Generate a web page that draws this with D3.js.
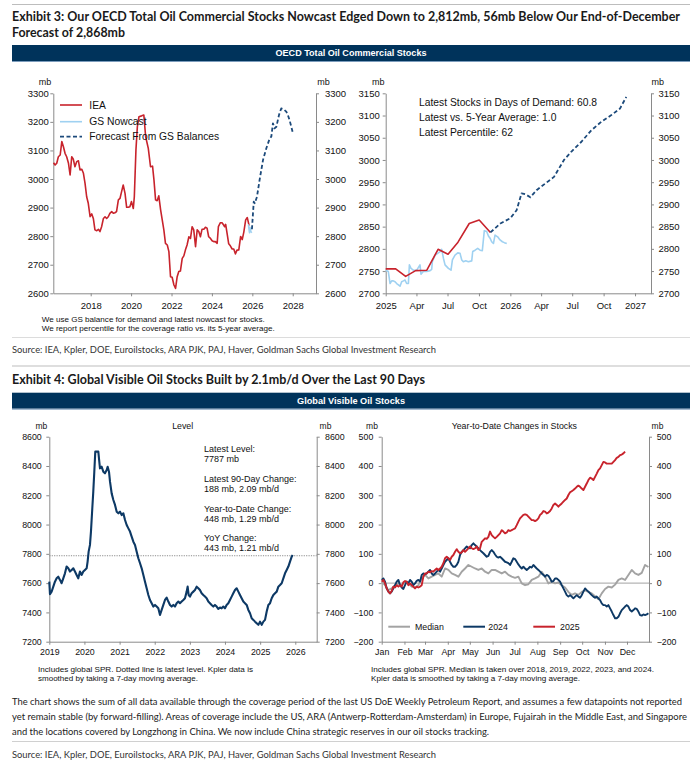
<!DOCTYPE html>
<html>
<head>
<meta charset="utf-8">
<script src="https://cdn.jsdelivr.net/npm/d3@7"></script>
<style>body{margin:0;background:#fff}</style>
</head>
<body>
<svg id="chart"></svg>
<script>
//////////////////////// DATA ////////////////////////
// OECD commercial stocks (mb), [decimal year, value]
const ieaSeries = [
  [2016.16,3057],[2016.24,3049],[2016.32,3055],[2016.40,3078],[2016.49,3084],[2016.57,3131],[2016.65,3113],[2016.73,3090],
  [2016.81,3078],[2016.90,3055],[2016.98,3014],[2017.06,3078],[2017.14,3069],[2017.22,3043],[2017.31,3061],[2017.39,3064],
  [2017.47,3032],[2017.56,3034],[2017.64,3020],[2017.72,2985],[2017.80,2938],[2017.88,2915],[2017.97,2868],[2018.05,2878],
  [2018.13,2862],[2018.21,2822],[2018.30,2819],[2018.38,2824],[2018.46,2816],[2018.54,2833],[2018.63,2862],[2018.71,2868],
  [2018.79,2862],[2018.87,2868],[2018.95,2880],[2019.04,2886],[2019.12,2880],[2019.20,2882],[2019.28,2886],[2019.37,2927],
  [2019.45,2932],[2019.53,2956],[2019.61,2979],[2019.70,2950],[2019.78,2901],[2019.86,2901],[2019.94,2903],[2020.02,2921],
  [2020.11,2897],[2020.16,2938],[2020.24,3102],[2020.31,3183],[2020.39,3218],[2020.52,3221],[2020.63,3224],[2020.72,3148],
  [2020.85,3107],[2020.96,3043],[2021.06,3045],[2021.13,2997],[2021.21,2927],[2021.29,2924],[2021.37,2941],[2021.46,2892],
  [2021.54,2857],[2021.62,2822],[2021.70,2775],[2021.79,2769],[2021.87,2746],[2021.95,2658],[2022.03,2656],[2022.12,2629],
  [2022.20,2617],[2022.28,2658],[2022.36,2676],[2022.44,2678],[2022.53,2722],[2022.61,2731],[2022.69,2752],[2022.77,2769],
  [2022.86,2798],[2022.94,2792],[2023.02,2833],[2023.10,2822],[2023.19,2763],[2023.27,2822],[2023.35,2816],[2023.43,2798],
  [2023.51,2824],[2023.60,2824],[2023.68,2831],[2023.76,2828],[2023.84,2798],[2023.93,2792],[2024.01,2784],[2024.09,2781],
  [2024.17,2781],[2024.26,2775],[2024.32,2833],[2024.42,2847],[2024.50,2847],[2024.58,2839],[2024.63,2833],[2024.68,2841],
  [2024.75,2810],[2024.83,2773],[2024.91,2766],[2025.00,2755],[2025.08,2755],[2025.16,2738],[2025.24,2751],[2025.33,2752],
  [2025.42,2799],[2025.50,2788],[2025.58,2815],[2025.67,2857],[2025.75,2865],[2025.84,2837]
];
const nowcastSeries = [
  [2025.000,2752],[2025.021,2749],[2025.035,2722],[2025.048,2728],[2025.061,2728],[2025.075,2726],[2025.088,2722],
  [2025.102,2719],[2025.115,2716],[2025.128,2726],[2025.142,2728],[2025.155,2730],[2025.168,2722],[2025.182,2722],
  [2025.190,2764],[2025.203,2756],[2025.222,2752],[2025.249,2752],[2025.275,2764],[2025.283,2743],[2025.302,2749],
  [2025.329,2749],[2025.356,2751],[2025.369,2754],[2025.374,2771],[2025.396,2786],[2025.417,2790],[2025.436,2794],
  [2025.449,2799],[2025.463,2779],[2025.476,2764],[2025.503,2756],[2025.524,2752],[2025.535,2775],[2025.556,2786],
  [2025.578,2791],[2025.596,2790],[2025.610,2775],[2025.623,2771],[2025.642,2773],[2025.663,2771],[2025.690,2773],
  [2025.698,2794],[2025.717,2797],[2025.738,2801],[2025.757,2797],[2025.775,2796],[2025.791,2841],[2025.810,2839],
  [2025.824,2829],[2025.837,2824],[2025.850,2816],[2025.864,2812],[2025.877,2831],[2025.898,2827],[2025.917,2820],
  [2025.936,2816],[2025.952,2814],[2025.971,2812]
];
// forecast from GS balances, as drawn on the long and the short panel
const forecastLong = [
  [2025.98,2824],[2026.07,2921],[2026.12,2915],[2026.23,2938],[2026.36,2997],[2026.53,3067],[2026.69,3107],
  [2026.86,3142],[2026.94,3148],[2027.02,3195],[2027.10,3177],[2027.19,3183],[2027.32,3224],[2027.43,3247],
  [2027.55,3244],[2027.68,3236],[2027.76,3224],[2027.84,3207],[2027.93,3183],[2028.01,3160]
];
const forecastShort = [
  [2025.84,2837],[2025.92,2857],[2026.00,2869],[2026.05,2887],[2026.09,2925],[2026.12,2923],[2026.16,2916],
  [2026.21,2932],[2026.28,2947],[2026.35,2962],[2026.43,3000],[2026.49,3019],[2026.57,3041],[2026.65,3067],
  [2026.73,3086],[2026.81,3101],[2026.88,3116],[2026.93,3142]
];
const oecdTicksLong = [2600,2700,2800,2900,3000,3100,3200,3300];
const oecdTicksShort = [2700,2750,2800,2850,2900,2950,3000,3050,3100,3150];
const longYears = [2018,2020,2022,2024,2026,2028];
const shortTickMonths = ["2025-01","2025-04","2025-07","2025-10","2026-01","2026-04","2026-07","2026-10","2027-01"];
const oecdNotes = ["Latest Stocks in Days of Demand: 60.8","Latest vs. 5-Year Average: 1.0","Latest Percentile: 62"];

// global visible stocks (mb), [decimal year, value]
const visibleLevel = [
  [2019.000,7610],[2019.019,7524],[2019.066,7542],[2019.114,7576],[2019.161,7610],[2019.209,7633],[2019.256,7644],
  [2019.304,7622],[2019.351,7599],[2019.398,7633],[2019.446,7667],[2019.493,7713],[2019.541,7701],[2019.588,7679],
  [2019.636,7690],[2019.683,7701],[2019.731,7679],[2019.778,7656],[2019.825,7633],[2019.873,7679],[2019.920,7656],
  [2019.968,7679],[2020.015,7690],[2020.063,7701],[2020.091,7747],[2020.120,7815],[2020.158,7861],[2020.186,7952],
  [2020.224,8111],[2020.252,8225],[2020.281,8361],[2020.309,8498],[2020.347,8498],[2020.395,8498],[2020.423,8429],
  [2020.442,8384],[2020.490,8395],[2020.537,8361],[2020.584,8350],[2020.632,8372],[2020.660,8395],[2020.698,8361],
  [2020.727,8293],[2020.774,8213],[2020.822,8168],[2020.869,8134],[2020.917,8088],[2020.964,8077],[2021.011,8088],
  [2021.059,8065],[2021.106,8077],[2021.154,8031],[2021.201,7997],[2021.249,7974],[2021.296,7952],[2021.343,7918],
  [2021.391,7883],[2021.438,7861],[2021.486,7815],[2021.533,7770],[2021.581,7736],[2021.628,7701],[2021.676,7656],
  [2021.723,7610],[2021.770,7565],[2021.818,7519],[2021.865,7485],[2021.913,7463],[2021.960,7440],[2022.008,7451],
  [2022.055,7440],[2022.102,7428],[2022.150,7383],[2022.197,7417],[2022.245,7451],[2022.292,7485],[2022.340,7501],
  [2022.387,7474],[2022.435,7451],[2022.482,7440],[2022.529,7451],[2022.577,7440],[2022.624,7463],[2022.672,7474],
  [2022.719,7463],[2022.767,7474],[2022.814,7485],[2022.861,7497],[2022.909,7542],[2022.937,7576],[2022.966,7519],
  [2023.004,7508],[2023.051,7531],[2023.099,7542],[2023.146,7553],[2023.194,7576],[2023.241,7565],[2023.288,7553],
  [2023.336,7531],[2023.383,7519],[2023.431,7508],[2023.478,7497],[2023.526,7474],[2023.573,7463],[2023.620,7451],
  [2023.668,7440],[2023.715,7451],[2023.763,7440],[2023.810,7424],[2023.858,7433],[2023.905,7428],[2023.953,7440],
  [2024.000,7428],[2024.047,7451],[2024.095,7463],[2024.142,7485],[2024.190,7508],[2024.237,7531],[2024.285,7553],
  [2024.332,7565],[2024.380,7542],[2024.427,7519],[2024.474,7497],[2024.522,7474],[2024.569,7463],[2024.617,7451],
  [2024.664,7417],[2024.712,7394],[2024.759,7360],[2024.806,7349],[2024.854,7337],[2024.901,7326],[2024.949,7315],
  [2024.996,7337],[2025.044,7315],[2025.091,7337],[2025.138,7349],[2025.186,7406],[2025.233,7451],[2025.281,7463],
  [2025.328,7497],[2025.376,7519],[2025.423,7531],[2025.471,7542],[2025.518,7576],[2025.566,7587],[2025.613,7599],
  [2025.660,7633],[2025.708,7667],[2025.755,7690],[2025.803,7713],[2025.850,7747],[2025.898,7781],[2025.926,7792]
];
const latestLevel = 7787;
const levelTicks = [7200,7400,7600,7800,8000,8200,8400,8600];
const levelYears = [2019,2020,2021,2022,2023,2024,2025,2026];
const levelNotes = ["Latest Level:","7787 mb","Latest 90-Day Change:","188 mb, 2.09 mb/d",
  "Year-to-Date Change:","448 mb, 1.29 mb/d","YoY Change:","443 mb, 1.21 mb/d"];

// year-to-date changes (mb); median read every 4.54 days, 2024/2025 every 2.27 days from 1 Jan
const medianStepDays = 4.54;
const ytdStepDays = 2.27;
const ytdMedian = [5,-7,-24,-18,-7,-1,-7,5,-1,-12,-15,-7,16,28,16,22,28,33,22,50,45,33,28,22,39,50,62,56,50,45,50,39,
  33,45,45,39,33,39,28,22,18,22,-1,-7,-4,11,16,22,39,22,-1,5,-1,2,-7,-15,-30,-40,-35,-40,-30,-25,-30,-35,-45,-55,-35,
  -20,-12,-15,-5,11,16,11,28,45,33,28,35,62,55];
const ytd2024 = [11,16,5,-18,-29,-35,-29,-18,-7,5,11,-7,-15,-20,-7,5,-1,11,5,-7,-1,8,11,5,28,33,30,33,39,45,33,28,33,
  39,45,39,50,62,73,79,85,73,62,56,56,62,73,96,107,113,119,125,121,119,130,136,130,125,119,113,107,102,96,90,93,107,113,
  107,98,90,87,90,85,79,73,71,68,62,73,85,82,73,64,56,50,56,50,45,50,56,53,62,56,50,45,39,33,28,22,28,25,16,5,7,16,16,
  11,5,-7,-18,-29,-41,-46,-41,-46,-52,-46,-41,-46,-50,-41,-29,-18,-24,-29,-35,-41,-46,-50,-46,-52,-58,-69,-75,-75,-80,
  -75,-86,-97,-109,-120,-120,-115,-103,-92,-86,-80,-75,-80,-92,-97,-92,-86,-88,-97,-109,-111,-107,-109,-107,-103];
const ytd2025 = [5,11,-1,-18,-29,-35,-27,-12,-15,-7,-12,-7,-12,3,7,5,-7,-1,-7,-12,-18,-12,-15,-12,-7,22,33,33,39,37,41,
  39,45,50,45,50,56,68,85,90,85,79,90,96,107,116,107,102,105,113,107,113,119,125,119,116,119,125,113,119,141,147,153,151,
  158,176,164,158,153,158,164,170,181,176,170,173,181,178,181,184,187,198,210,221,227,233,235,233,227,221,215,215,212,215,
  221,233,238,246,244,238,241,246,255,267,272,267,261,267,272,278,284,289,301,310,314,318,323,329,333,329,323,318,329,340,
  352,360,357,352,363,374,386,392,403,414,412,408,408,408,408,414,420,428,431,437,439,443,449];
const ytdTicks = [-200,-100,0,100,200,300,400,500];
const ytdLegend = ["Median","2024","2025"];

//////////////////////// STYLE ////////////////////////
const W = 697, H = 767;
const fontChart = "'Liberation Sans', Arial, sans-serif";
const fontText = "Lato, 'Noto Sans', sans-serif";
const BAR = "#00335b", RED = "#c8232c", LIGHT_BLUE = "#9fd1f1", DASH_NAVY = "#1c4a7b",
      NAVY = "#0d3965", GREY = "#a3a3a3", AXIS = "#8a8a8a";

const svg = d3.select("#chart").attr("width", W).attr("height", H);

const toDate = y => {
  const yr = Math.floor(y), s = new Date(yr, 0, 1), e = new Date(yr + 1, 0, 1);
  return new Date(+s + (y - yr) * (e - s));
};

const txt = (x, y, s, o = {}) => {
  const t = svg.append("text").attr("x", x).attr("y", y).text(s)
    .attr("font-family", o.family || fontChart).attr("font-size", o.size || 9)
    .attr("fill", o.fill || "#111").attr("text-anchor", o.anchor || "start");
  if (o.weight) t.attr("font-weight", o.weight);
  if (o.len) t.attr("textLength", o.len).attr("lengthAdjust", "spacingAndGlyphs");
  return t;
};
const hline = (x1, x2, y, c, w = 1) =>
  svg.append("line").attr("x1", x1).attr("x2", x2).attr("y1", y).attr("y2", y).attr("stroke", c).attr("stroke-width", w);

const headerBar = (y, label, len) => {
  svg.append("rect").attr("x", 12).attr("y", y).attr("width", 678).attr("height", 16).attr("fill", BAR);
  hline(12, 690, y + 16.5, "#7c9cbc", 1);
  txt(351, y + 11.3, label, {anchor: "middle", size: 8.5, weight: "bold", fill: "#fff", len});
};

// axes on left, right and bottom of a panel
const panelAxes = (x, y, c) => {
  const [x0, x1] = x.range(), y0 = y.range()[0];
  const g = svg.append("g");
  const la = g.append("g").attr("transform", `translate(${x0},0)`)
    .call(d3.axisLeft(y).tickValues(c.yTicks).tickSize(3).tickSizeOuter(0).tickPadding(c.padL).tickFormat(d3.format("d")));
  const ra = g.append("g").attr("transform", `translate(${x1},0)`)
    .call(d3.axisRight(y).tickValues(c.yTicks).tickSize(3).tickSizeOuter(0).tickPadding(c.padR).tickFormat(d3.format("d")));
  const ba = g.append("g").attr("transform", `translate(0,${y0})`)
    .call(d3.axisBottom(x).tickValues(c.xTicks).tickFormat(c.xFormat).tickSize(3).tickSizeOuter(0).tickPadding(c.padB));
  [la, ra, ba].forEach(a => {
    a.select(".domain").attr("stroke", AXIS);
    a.selectAll(".tick line").attr("stroke", AXIS);
    a.selectAll("text").attr("font-family", fontChart).attr("font-size", c.fs || 9).attr("fill", "#111");
  });
};

const drawLine = (data, x, y, color, w, dash) => {
  const p = svg.append("path").datum(data).attr("fill", "none").attr("stroke", color)
    .attr("stroke-width", w).attr("stroke-linejoin", "round")
    .attr("d", d3.line().x(d => x(d[0])).y(d => y(d[1])));
  if (dash) p.attr("stroke-dasharray", dash);
  return p;
};

//////////////////////// HEADINGS ////////////////////////
hline(12, 690, 4.5, "#bdbdbd", 1.2);
txt(12, 21, "Exhibit 3: Our OECD Total Oil Commercial Stocks Nowcast Edged Down to 2,812mb, 56mb Below Our End-of-December",
  {family: fontText, size: 12.5, weight: "bold", fill: "#1a1a1a", len: 668});
txt(12, 37, "Forecast of 2,868mb", {family: fontText, size: 12.5, weight: "bold", fill: "#1a1a1a", len: 113});
headerBar(45, "OECD Total Oil Commercial Stocks", 151);

//////////////////////// OECD LONG PANEL ////////////////////////
{
  const x = d3.scaleTime().domain([toDate(2016.15), toDate(2029.15)]).range([53.3, 316]);
  const y = d3.scaleLinear().domain([2600, 3300]).range([293.3, 93.3]);
  panelAxes(x, y, {yTicks: oecdTicksLong, padL: 1.5, padR: 6, padB: 5.5,
    xTicks: longYears.map(v => new Date(v, 0, 1)), xFormat: d3.timeFormat("%Y"), fs: 9.5});
  txt(45, 85, "mb", {anchor: "middle", size: 9});
  txt(323.5, 85, "mb", {anchor: "middle", size: 9});
  const lastIea = ieaSeries[ieaSeries.length - 1][0];
  drawLine(ieaSeries.map(d => [toDate(d[0]), d[1]]), x, y, RED, 1.6);
  drawLine(nowcastSeries.filter(d => d[0] >= lastIea - 0.06).map(d => [toDate(d[0]), d[1]]), x, y, LIGHT_BLUE, 1.6);
  drawLine(forecastLong.map(d => [toDate(d[0]), d[1]]), x, y, DASH_NAVY, 1.8, "4,2.5");

  // legend
  const leg = [["IEA", RED, null], ["GS Nowcast", LIGHT_BLUE, null], ["Forecast From GS Balances", DASH_NAVY, "4,2.5"]];
  const ly = [105, 121.7, 136.7];
  leg.forEach((l, i) => {
    const ln = hline(60, 82, ly[i], l[1], l[2] ? 1.8 : 1.6);
    if (l[2]) ln.attr("stroke-dasharray", l[2]);
    txt(89.3, ly[i] + 3.6, l[0], {size: 10.3});
  });
  txt(41.7, 322, "We use GS balance for demand and latest nowcast for stocks.", {size: 7.3, len: 223});
  txt(41.7, 331, "We report percentile for the coverage ratio vs. its 5-year average.", {size: 7.3, len: 233});
}

//////////////////////// OECD SHORT PANEL ////////////////////////
{
  const x = d3.scaleTime().domain([new Date(2025, 0, 1), toDate(2027.128)]).range([385.7, 651]);
  const y = d3.scaleLinear().domain([2700, 3150]).range([293.3, 93.3]);
  const fmt = d => d.getMonth() === 0 ? d3.timeFormat("%Y")(d) : d3.timeFormat("%b")(d);
  panelAxes(x, y, {yTicks: oecdTicksShort, padL: 3, padR: 4.5, padB: 5.5,
    xTicks: shortTickMonths.map(d3.timeParse("%Y-%m")), xFormat: fmt, fs: 9.5});
  txt(378.3, 85, "mb", {anchor: "middle", size: 9});
  txt(657.7, 85, "mb", {anchor: "middle", size: 9});
  drawLine(nowcastSeries.map(d => [toDate(d[0]), d[1]]), x, y, LIGHT_BLUE, 1.6);
  drawLine(ieaSeries.filter(d => d[0] >= 2025).map(d => [toDate(d[0]), d[1]]), x, y, RED, 1.6);
  drawLine(forecastShort.map(d => [toDate(d[0]), d[1]]), x, y, DASH_NAVY, 1.8, "4,2.5");
  [102.3, 117.3, 132.3].forEach((yy, i) => txt(419, yy + 3.6, oecdNotes[i], {size: 10.3}));
}

hline(12, 690, 337.5, "#dcdcdc", 1);
txt(12, 352.5, "Source: IEA, Kpler, DOE, Euroilstocks, ARA PJK, PAJ, Haver, Goldman Sachs Global Investment Research",
  {family: fontText, size: 9.5, fill: "#333", len: 424});
hline(12, 690, 366, "#bdbdbd", 1.2);
txt(12, 383.5, "Exhibit 4: Global Visible Oil Stocks Built by 2.1mb/d Over the Last 90 Days",
  {family: fontText, size: 12.5, weight: "bold", fill: "#1a1a1a", len: 413});
headerBar(392.7, "Global Visible Oil Stocks", 108);

//////////////////////// LEVEL PANEL ////////////////////////
{
  const x = d3.scaleTime().domain([new Date(2019, 0, 1), toDate(2026.61)]).range([49.3, 316.7]);
  const y = d3.scaleLinear().domain([7200, 8600]).range([641.7, 436.7]);
  panelAxes(x, y, {yTicks: levelTicks, padL: 4.6, padR: 5.3, padB: 4,
    xTicks: levelYears.map(v => new Date(v, 0, 1)), xFormat: d3.timeFormat("%Y"), fs: 8.8});
  txt(41.3, 428.7, "mb", {anchor: "middle", size: 8.5});
  txt(325.5, 428.7, "mb", {anchor: "middle", size: 8.5});
  txt(182.7, 428.7, "Level", {anchor: "middle", size: 8.8});
  svg.append("line").attr("x1", x.range()[0]).attr("x2", x.range()[1])
    .attr("y1", y(latestLevel)).attr("y2", y(latestLevel))
    .attr("stroke", "#8c8c8c").attr("stroke-width", 1).attr("stroke-dasharray", "1.2,1.2");
  drawLine(visibleLevel.map(d => [toDate(d[0]), d[1]]), x, y, NAVY, 2.1);
  [449, 459, 479, 489, 508.3, 518.3, 537.3, 547.7].forEach((yy, i) => txt(204, yy + 3.2, levelNotes[i], {size: 9}));
  txt(38, 671.5, "Includes global SPR. Dotted line is latest level. Kpler data is", {size: 7.2, len: 215});
  txt(38, 681, "smoothed by taking a 7-day moving average.", {size: 7.2, len: 160});
}

//////////////////////// YTD PANEL ////////////////////////
{
  const start = new Date(2025, 0, 1);
  const dayDate = d => new Date(+start + d * 864e5);
  const x = d3.scaleTime().domain([start, new Date(2025, 11, 31)]).range([381.7, 649]);
  const y = d3.scaleLinear().domain([-200, 500]).range([641.7, 436.7]);
  panelAxes(x, y, {yTicks: ytdTicks, padL: 5.4, padR: 4.7, padB: 4,
    xTicks: d3.timeMonth.range(start, new Date(2025, 11, 2)), xFormat: d3.timeFormat("%b"), fs: 8.8});
  txt(372, 428.7, "mb", {anchor: "middle", size: 8.5});
  txt(657.5, 428.7, "mb", {anchor: "middle", size: 8.5});
  txt(514.3, 428.7, "Year-to-Date Changes in Stocks", {anchor: "middle", size: 8.8});
  hline(x.range()[0], x.range()[1], y(0), "#b5b5b5", 1.2);
  const series = [
    [ytdMedian.map((v, i) => [dayDate(i * medianStepDays), v]), GREY],
    [ytd2024.map((v, i) => [dayDate(i * ytdStepDays), v]), NAVY],
    [ytd2025.map((v, i) => [dayDate(i * ytdStepDays), v]), RED]
  ];
  series.forEach(s => drawLine(s[0], x, y, s[1], 1.9));
  const legX = [[388.3, 410, 415], [463.3, 485, 488.3], [533.3, 555, 560]];
  legX.forEach((l, i) => {
    hline(l[0], l[1], 626.7, series[i][1], 2);
    txt(l[2], 629.8, ytdLegend[i], {size: 8.8});
  });
  txt(371, 671.5, "Includes global SPR. Median is taken over 2018, 2019, 2022, 2023, and 2024.", {size: 7.2, len: 283});
  txt(371, 681, "Kpler data is smoothed by taking a 7-day moving average.", {size: 7.2, len: 209});
}

//////////////////////// FOOTER ////////////////////////
const para = [
  ["The chart shows the sum of all data available through the coverage period of the last US DoE Weekly Petroleum Report, and assumes a few datapoints not reported", 670],
  ["yet remain stable (by forward-filling). Areas of coverage include the US, ARA (Antwerp-Rotterdam-Amsterdam) in Europe, Fujairah in the Middle East, and Singapore", 675],
  ["and the locations covered by Longzhong in China. We now include China strategic reserves in our oil stocks tracking.", 477]
];
para.forEach((p, i) => txt(12, 705 + i * 15, p[0], {family: fontText, size: 9.3, fill: "#222", len: p[1]}));
hline(12, 690, 741.5, "#d0d0d0", 1);
txt(12, 758, "Source: IEA, Kpler, DOE, Euroilstocks, ARA PJK, PAJ, Haver, Goldman Sachs Global Investment Research",
  {family: fontText, size: 9.5, fill: "#333", len: 424});
</script>
</body>
</html>
